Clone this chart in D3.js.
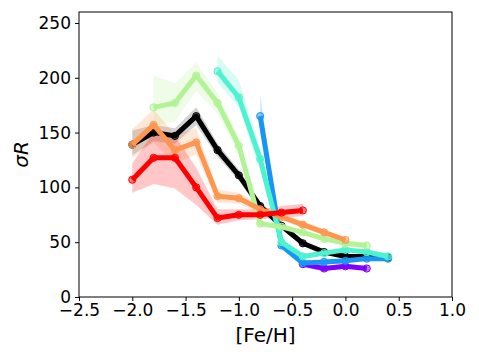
<!DOCTYPE html>
<html>
<head>
<meta charset="utf-8">
<script src="https://cdn.jsdelivr.net/npm/d3@7"></script>
<style>
    body { margin: 0; background: #fff; }
    text { font-family: "DejaVu Sans", sans-serif; fill: #000; }
</style>
</head>
<body>
<div id="chart"></div>
<script>
// x positions of the metallicity bins
var feh_black = [-2.0, -1.8, -1.6, -1.4, -1.2, -1.0, -0.8, -0.6, -0.4, -0.2, 0.0, 0.2, 0.4]
var feh_red = [-2.0, -1.8, -1.6, -1.4, -1.2, -1.0, -0.8, -0.6, -0.4]
var feh_orange = [-2.0, -1.8, -1.6, -1.4, -1.2, -1.0, -0.8, -0.6, -0.4, -0.2, 0.0]
var feh_green = [-1.8, -1.6, -1.4, -1.2, -1.0, -0.8, -0.6, -0.4, -0.2, 0.0, 0.2]
var feh_cyan = [-1.2, -1.0, -0.8, -0.6, -0.4, -0.2, 0.0, 0.2, 0.4]
var feh_blue = [-0.8, -0.6, -0.4, -0.2, 0.0, 0.2, 0.4]
var feh_purple = [-0.4, -0.2, 0.0, 0.2]

// sigma R values and band edges
var sig_black = [139, 150, 147, 165, 134, 111, 83, 65, 49, 41, 37, 37, 36]
var lo_black = [129, 142, 140, 157, 128, 106, 79, 62, 47, 39, 35, 35, 34]
var hi_black = [152, 157, 154, 173, 140, 116, 87, 68, 51, 43, 39, 39, 38]

var sig_red = [107, 127, 127, 100, 72, 75, 75, 77, 79]
var lo_red = [95, 103, 99, 84, 66, 70, 71, 72, 74]
var hi_red = [122, 150, 147, 118, 80, 80, 80, 83, 85]

var sig_orange = [139, 157, 134, 141, 92, 90, 80, 73, 66, 59, 52]
var lo_orange = [127, 141, 122, 130, 86, 85, 76, 70, 63, 56, 50]
var hi_orange = [153, 171, 148, 154, 98, 95, 84, 76, 69, 62, 54]

var sig_green = [173, 177, 202, 177, 138, 67, 64, 59, 53, 49, 47]
var lo_green = [156, 160, 188, 167, 130, 64, 62, 57, 51, 47, 45]
var hi_green = [202, 195, 214, 186, 146, 70, 66, 61, 55, 51, 49]

var sig_cyan = [206, 182, 126, 50, 37, 40, 43, 41, 37]
var lo_cyan = [196, 173, 115, 47, 35, 38, 41, 39, 35]
var hi_cyan = [220, 198, 135, 53, 39, 42, 45, 43, 39]

var sig_blue = [165, 47, 31, 32, 33, 35, 35]
var lo_blue = [150, 44, 29, 30, 31, 33, 33]
var hi_blue = [185, 50, 33, 34, 35, 37, 37]

var sig_purple = [30, 26, 28, 26]
var lo_purple = [27, 24, 26, 24]
var hi_purple = [32, 28, 30, 28]

var x_ticks = [-2.5, -2.0, -1.5, -1.0, -0.5, 0.0, 0.5, 1.0]
var y_ticks = [0, 50, 100, 150, 200, 250]

// drawing order: black first, then purple -> red
var series = [
    {x: feh_black, y: sig_black, lo: lo_black, hi: hi_black, color: "#000000", band: "#808080"},
    {x: feh_purple, y: sig_purple, lo: lo_purple, hi: hi_purple, color: "#8000ff", band: "#8000ff"},
    {x: feh_blue, y: sig_blue, lo: lo_blue, hi: hi_blue, color: "#1996f3", band: "#1996f3"},
    {x: feh_cyan, y: sig_cyan, lo: lo_cyan, hi: hi_cyan, color: "#4df3ce", band: "#4df3ce"},
    {x: feh_green, y: sig_green, lo: lo_green, hi: hi_green, color: "#b2f396", band: "#b2f396"},
    {x: feh_orange, y: sig_orange, lo: lo_orange, hi: hi_orange, color: "#ff964f", band: "#ff964f"},
    {x: feh_red, y: sig_red, lo: lo_red, hi: hi_red, color: "#ff0000", band: "#ff0000"}
]

function draw_chart() {
    var width = 479, height = 359
    var left = 79, right = 452, top = 12, bottom = 297

    var svg = d3.select("#chart").append("svg")
        .attr("width", width)
        .attr("height", height)

    var x = d3.scaleLinear().domain([-2.5, 1.0]).range([left, right])
    var y = d3.scaleLinear().domain([0, 260]).range([bottom, top])

    var plot = svg.append("g")

    series.forEach((s) => {
        var pts = s.x.map((v, i) => { return {x: v, y: s.y[i], lo: s.lo[i], hi: s.hi[i]} })

        var area = d3.area()
            .x((d) => x(d.x))
            .y0((d) => y(d.lo))
            .y1((d) => y(d.hi))

        plot.append("path")
            .datum(pts)
            .attr("d", area)
            .attr("fill", s.band)
            .attr("fill-opacity", s.color == "#000000" ? 0.35 : 0.22)
            .attr("stroke", "none")
    })

    series.forEach((s) => {
        var pts = s.x.map((v, i) => { return {x: v, y: s.y[i]} })

        var line = d3.line()
            .x((d) => x(d.x))
            .y((d) => y(d.y))

        plot.append("path")
            .datum(pts)
            .attr("d", line)
            .attr("fill", "none")
            .attr("stroke", s.color)
            .attr("stroke-width", 5)
            .attr("stroke-linejoin", "round")

        plot.append("g")
            .selectAll("circle")
            .data(pts)
            .enter().append("circle")
            .attr("cx", (d) => x(d.x))
            .attr("cy", (d) => y(d.y))
            .attr("r", 3.6)
            .attr("fill", s.color)
            .attr("fill-opacity", 0.5)
            .attr("stroke", s.color)
            .attr("stroke-width", 1)
    })

    // frame
    svg.append("rect")
        .attr("x", left)
        .attr("y", top)
        .attr("width", right - left)
        .attr("height", bottom - top)
        .attr("fill", "none")
        .attr("stroke", "#000")
        .attr("stroke-width", 1)

    var xAxis = svg.append("g")
        .attr("transform", "translate(0," + bottom + ")")
        .call(d3.axisBottom(x).tickValues(x_ticks).tickSize(4).tickPadding(3)
            .tickFormat((d) => d3.format(".1f")(d).replace("-", "\u2212")))
    xAxis.select(".domain").remove()
    xAxis.selectAll("text").style("font-size", "17px").attr("fill", "#000")

    var yAxis = svg.append("g")
        .attr("transform", "translate(" + left + ",0)")
        .call(d3.axisLeft(y).tickValues(y_ticks).tickSize(4).tickPadding(4))
    yAxis.select(".domain").remove()
    yAxis.selectAll("text").style("font-size", "17px").attr("fill", "#000")

    svg.append("text")
        .attr("x", (left + right) / 2)
        .attr("y", 342)
        .attr("text-anchor", "middle")
        .style("font-size", "20px")
        .text("[Fe/H]")

    svg.append("text")
        .attr("transform", "translate(28," + (top + bottom) / 2 + ") rotate(-90)")
        .attr("text-anchor", "middle")
        .style("font-size", "20px")
        .style("font-style", "italic")
        .text("\u03c3R")
}

draw_chart()
</script>
</body>
</html>
